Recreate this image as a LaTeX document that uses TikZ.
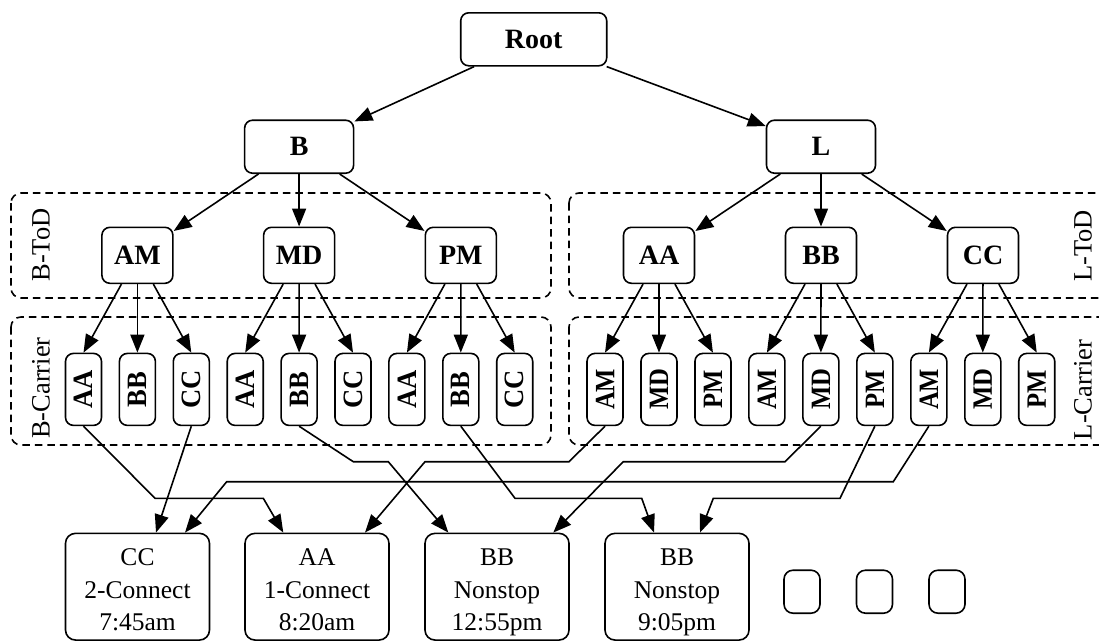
\documentclass[tikz,border=0pt]{standalone}
\usepackage{fontspec}
\setmainfont{Liberation Serif}
\usetikzlibrary{arrows.meta,calc}
\newcommand{\topstrut}{\rule{0pt}{28pt}}
\begin{document}
\begin{tikzpicture}[x=1pt,y=-1pt,
  edge/.style={line width=1.6pt, -{Triangle[length=18pt,width=14pt]}},
  nbox/.style={draw, line width=1.6pt, rounded corners=8pt, inner sep=0pt, font=\fontsize{28}{33}\selectfont\bfseries},
  leaf/.style={nbox, minimum width=36pt, minimum height=72pt},
  tod/.style={nbox, minimum width=71pt, minimum height=56pt},
  topbox/.style={nbox, minimum width=109pt, minimum height=53pt},
  res/.style={draw, line width=1.6pt, rounded corners=10pt, inner sep=0pt, minimum width=144pt, minimum height=106.7pt, align=center, font=\fontsize{25.5}{32.5}\selectfont},
  dotbox/.style={draw, line width=1.6pt, rounded corners=9pt, minimum width=36pt, minimum height=43pt, inner sep=0pt},
  cluster/.style={draw, dash pattern=on 7.5pt off 5pt, line width=1.6pt, rounded corners=10pt},
  clabel/.style={rotate=90, font=\fontsize{26.5}{30}\selectfont, inner sep=0pt}
]
\useasboundingbox (0,0) rectangle (1099,641);

% clusters
\draw[cluster] (11,193) rectangle (551,298);
\draw[cluster] (11,317) rectangle (551,445);
\draw[cluster] (569,193) rectangle (1120,298);
\draw[cluster] (569,317) rectangle (1120,445);
\node[clabel] (lbtod) at (41,245) {B-ToD};
\node[clabel] (lbcar) at (41,388) {B-Carrier};
\node[clabel] (lltod) at (1083,246) {L-ToD};
\node[clabel] (llcar) at (1083,390) {L-Carrier};

% top nodes
\node[nbox, minimum width=146pt, minimum height=53pt] (root) at (533.7,39.3) {Root};
\node[topbox] (b) at (299.1,146.7) {B};
\node[topbox] (l) at (821,146.7) {L};

% time of day / carrier
\node[tod] (am) at (137.4,255.3) {AM};
\node[tod] (md) at (299.1,255.3) {MD};
\node[tod] (pm) at (460.8,255.3) {PM};
\node[tod] (laa) at (659,255.3) {AA};
\node[tod] (lbb) at (821,255.3) {BB};
\node[tod] (lcc) at (983,255.3) {CC};

% leaves
\foreach \t [count=\i] in {AA,BB,CC,AA,BB,CC,AA,BB,CC}
  \node[leaf] (b\i) at ({83.5+53.9*(\i-1)},389.4) {\rotatebox{90}{\scalebox{0.95}[1]{\t}}};
\foreach \t [count=\i] in {AM,MD,PM,AM,MD,PM,AM,MD,PM}
  \node[leaf] (l\i) at ({605+53.97*(\i-1)},389.4) {\rotatebox{90}{\scalebox{0.88}[1]{\t}}};

% results
\node[res] (r1) at (137.5,586.7) {\topstrut CC\\2-Connect\\7:45am\vphantom{p}};
\node[res] (r2) at (317,586.7) {\topstrut AA\\1-Connect\\8:20am\vphantom{p}};
\node[res] (r3) at (497,586.7) {\topstrut BB\\Nonstop\\12:55pm};
\node[res] (r4) at (677,586.7) {\topstrut BB\\Nonstop\\9:05pm};
\node[dotbox] (d1) at (802,591.7) {};
\node[dotbox] (d2) at (874.5,591.7) {};
\node[dotbox] (d3) at (947,591.7) {};

% edges top
\draw[edge] (root) -- (b);
\draw[edge] (root) -- (l);
\foreach \pa in {am,md,pm} \draw[edge] (b) -- (\pa);
\foreach \pa in {laa,lbb,lcc} \draw[edge] (l) -- (\pa);
\foreach \pa/\ca/\cb/\cc in {am/1/2/3, md/4/5/6, pm/7/8/9} {
  \draw[edge] (\pa) -- (b\ca.north);
  \draw[edge] (\pa) -- (b\cb.north);
  \draw[edge] (\pa) -- (b\cc.north);
}
\foreach \pa/\ca/\cb/\cc in {laa/1/2/3, lbb/4/5/6, lcc/7/8/9} {
  \draw[edge] (\pa) -- (l\ca.north);
  \draw[edge] (\pa) -- (l\cb.north);
  \draw[edge] (\pa) -- (l\cc.north);
}

% bottom edges
\draw[edge] (b1.south) -- (155,498.3) -- (263.3,498.3) -- ($(r2.north)+(-33.7,0)$);
\draw[edge] (b3.south) -- ($(r1.north)+(18.5,0)$);
\draw[edge] (l7.south) -- (893.3,481.7) -- (226.7,481.7) -- ($(r1.north)+(47.5,0)$);
\draw[edge] (l1.south) -- (569,461.7) -- (425,461.7) -- ($(r2.north)+(48,0)$);
\draw[edge] (b5.south) -- (353.3,461.7) -- (388.3,461.7) -- ($(r3.north)+(-48.7,0)$);
\draw[edge] (b8.south) -- (515,498.3) -- (641.7,498.3) -- ($(r4.north)+(-23,0)$);
\draw[edge] (l5.south) -- (785,461.7) -- (623.3,461.7) -- ($(r3.north)+(56.3,0)$);
\draw[edge] (l6.south) -- (840,498.3) -- (713.3,498.3) -- ($(r4.north)+(23,0)$);
\end{tikzpicture}
\end{document}
